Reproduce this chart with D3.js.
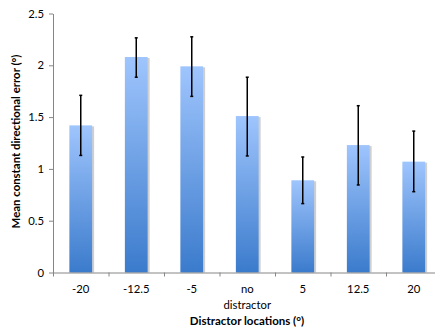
<!DOCTYPE html>
<html>
<head>
<meta charset="utf-8">
<script src="https://cdn.jsdelivr.net/npm/d3@7"></script>
<style>
  body { margin: 0; background: #fff; }
  text { font-family: Lato, "Open Sans", sans-serif; }
</style>
</head>
<body>
<script>
let categories = ["-20", "-12.5", "-5", "no distractor", "5", "12.5", "20"];
let means = [1.42, 2.08, 1.99, 1.51, 0.89, 1.23, 1.07];
let errHigh = [1.71, 2.265, 2.275, 1.885, 1.115, 1.61, 1.365];
let errLow = [1.13, 1.885, 1.70, 1.125, 0.665, 0.845, 0.78];
let yTicks = [0, 0.5, 1, 1.5, 2, 2.5];

function main() {
    let svg = d3.select("body").append("svg")
        .attr("width", 435)
        .attr("height", 328);

    let defs = svg.append("defs");
    let grad = defs.append("linearGradient")
        .attr("id", "barGrad")
        .attr("x1", 0).attr("y1", 0).attr("x2", 0).attr("y2", 1);
    grad.append("stop").attr("offset", "0%").attr("stop-color", "#9fc5fd");
    grad.append("stop").attr("offset", "100%").attr("stop-color", "#3b7bcc");

    let xScale = d3.scaleBand().domain(categories).range([53, 441.5]).paddingInner(0.59).paddingOuter(0.295);
    let yScale = d3.scaleLinear().domain([0, 2.5]).range([272.5, 13.5]);

    // axes
    let yAxis = d3.axisLeft(yScale).tickValues(yTicks).tickFormat(d => d).tickSize(4).tickSizeOuter(0);
    let gy = svg.append("g")
        .attr("transform", "translate(53,0)")
        .call(yAxis);
    gy.select(".domain").attr("stroke", "#868686");
    gy.selectAll(".tick line").attr("stroke", "#868686");
    gy.selectAll(".tick text").attr("font-size", "11.3px").attr("fill", "#000").attr("x", -9);

    // bar shadows
    svg.selectAll("rect.shadow")
        .data(categories)
        .enter()
        .append("rect")
        .attr("class", "shadow")
        .attr("x", d => xScale(d) + 2)
        .attr("y", (d, i) => yScale(means[i]) + 1)
        .attr("width", xScale.bandwidth())
        .attr("height", (d, i) => yScale(0) - yScale(means[i]) - 1)
        .attr("fill", "#cfcfcf");

    svg.selectAll("rect.bar")
        .data(categories)
        .enter()
        .append("rect")
        .attr("class", "bar")
        .attr("x", d => xScale(d))
        .attr("y", (d, i) => yScale(means[i]))
        .attr("width", xScale.bandwidth())
        .attr("height", (d, i) => yScale(0) - yScale(means[i]))
        .attr("fill", "url(#barGrad)");

    // x axis (band boundaries as ticks)
    let gx = svg.append("g");
    gx.append("line")
        .attr("x1", 53).attr("x2", 441.5)
        .attr("y1", yScale(0) + 0.5).attr("y2", yScale(0) + 0.5)
        .attr("stroke", "#868686");
    let step = xScale.step();
    gx.selectAll("line.tk")
        .data(categories)
        .enter()
        .append("line")
        .attr("class", "tk")
        .attr("x1", d => xScale(d) - xScale.paddingOuter() * step + 0.5)
        .attr("x2", d => xScale(d) - xScale.paddingOuter() * step + 0.5)
        .attr("y1", yScale(0)).attr("y2", yScale(0) + 4)
        .attr("stroke", "#868686");

    gx.selectAll("text.lbl")
        .data(categories)
        .enter()
        .append("text")
        .attr("class", "lbl")
        .attr("x", d => xScale(d) + xScale.bandwidth() / 2)
        .attr("y", 293)
        .attr("text-anchor", "middle")
        .attr("font-size", "11.3px")
        .each(function(d) {
            let words = d.split(" ");
            let t = d3.select(this);
            words.forEach((w, k) => {
                t.append("tspan")
                    .attr("x", xScale(d) + xScale.bandwidth() / 2)
                    .attr("dy", k === 0 ? 0 : 16)
                    .text(w);
            });
        });

    // error bars
    let eb = svg.append("g").attr("stroke", "#000").attr("stroke-width", 1.5);
    categories.forEach((c, i) => {
        let cx = xScale(c) + xScale.bandwidth() / 2;
        eb.append("line")
            .attr("x1", cx).attr("x2", cx)
            .attr("y1", yScale(errHigh[i])).attr("y2", yScale(errLow[i]));
        eb.append("line")
            .attr("x1", cx - 1.5).attr("x2", cx + 1.5)
            .attr("y1", yScale(errHigh[i])).attr("y2", yScale(errHigh[i]));
        eb.append("line")
            .attr("x1", cx - 1.5).attr("x2", cx + 1.5)
            .attr("y1", yScale(errLow[i])).attr("y2", yScale(errLow[i]));
    });

    // titles
    svg.append("text")
        .attr("x", 247)
        .attr("y", 325)
        .attr("text-anchor", "middle")
        .attr("font-size", "11.5px")
        .attr("font-weight", "bold")
        .text("Distractor locations (°)");

    svg.append("text")
        .attr("transform", "translate(20,141.5) rotate(-90)")
        .attr("text-anchor", "middle")
        .attr("font-size", "11.4px")
        .attr("font-weight", "bold")
        .text("Mean constant directional error (°)");
}

main();
</script>
</body>
</html>
